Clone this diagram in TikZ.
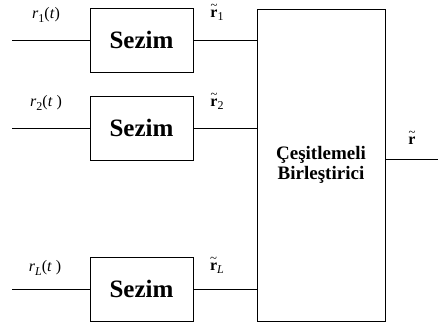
\documentclass[tikz,border=0pt]{standalone}
\usepackage{fontspec}
\setmainfont{Liberation Serif}
\usetikzlibrary{positioning}
\newcommand{\rtil}{\ooalign{\textbf{r}\cr\hidewidth\raisebox{0.5em}{\scalebox{0.8}{\textasciitilde}}\hidewidth\cr}}
\newcommand{\subs}[1]{\raisebox{-0.45ex}{\fontsize{12}{12}\selectfont #1}}
\begin{document}
\begin{tikzpicture}[x=1pt,y=-1pt]
     % Define styles
     \tikzstyle{wire} = [line width=0.9pt]
     \tikzstyle{sezimbox} = [draw, line width=0.9pt, minimum width=103pt, minimum height=64pt, inner sep=0pt, font=\fontsize{25}{30}\selectfont\bfseries]
     \tikzstyle{sig} = [inner sep=0pt, font=\fontsize{16}{18}\selectfont]

     \useasboundingbox (0,0) rectangle (438,329);

     % Selection blocks
     \node[sezimbox] (s1) at (141.5,40)  {Sezim};
     \node[sezimbox] (s2) at (141.5,128) {Sezim};
     \node[sezimbox] (sL) at (141.5,289) {Sezim};

     % Combiner
     \node[draw, line width=0.9pt, minimum width=128pt, minimum height=312pt, inner sep=0pt,
           align=center, font=\fontsize{19}{20}\selectfont\bfseries] (comb) at (321,165)
           {Çeşitlemeli\\Birleştirici};

     % Input wires
     \coordinate (in1) at (12,40);
     \coordinate (in2) at (12,128);
     \coordinate (inL) at (12,289);
     \draw[wire] (in1) -- (s1.west);
     \draw[wire] (in2) -- (s2.west);
     \draw[wire] (inL) -- (sL.west);

     % Wires into the combiner
     \draw[wire] (s1.east) -- (s1.east -| comb.west);
     \draw[wire] (s2.east) -- (s2.east -| comb.west);
     \draw[wire] (sL.east) -- (sL.east -| comb.west);

     % Output wire
     \coordinate (out) at (438,159);
     \draw[wire] (out -| comb.east) -- (out);

     % Labels
     \node[sig] (lr1) at (46,15)  {\textit{r}\subs{1}(\textit{t})};
     \node[sig] (lr2) at (46,103) {\textit{r}\subs{2}(\textit{t} )};
     \node[sig] (lrL) at (45,268) {\textit{r}\subs{\textit{L}}(\textit{t} )};
     \node[sig] (lt1) at (217,15)  {\rtil\subs{1}};
     \node[sig] (lt2) at (217,104) {\rtil\subs{2}};
     \node[sig] (ltL) at (217,268) {\rtil\subs{\textit{L}}};
     \node[sig] (lt)  at (412,141) {\rtil};
\end{tikzpicture}
\end{document}
